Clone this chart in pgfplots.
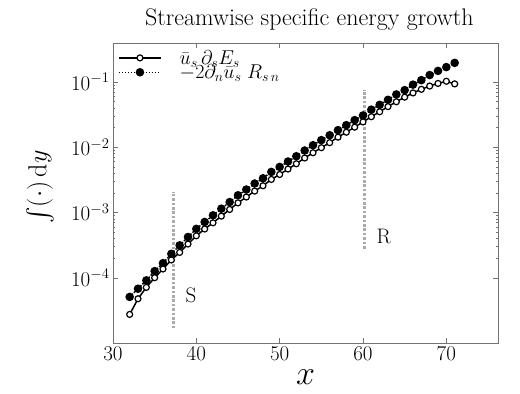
\RequirePackage{fix-cm}
\documentclass[border=0pt]{standalone}
\usepackage{amsmath}
\usepackage{pgfplots}
\pgfplotsset{compat=1.18}

% streamwise growth, filled: production term, open: advection term
\pgfplotstableread{
x  adv      prod
32 2.74e-5  5.08e-5
33 4.76e-5  6.78e-5
34 7.11e-5  9.09e-5
35 1.00e-4  1.26e-4
36 1.36e-4  1.67e-4
37 1.87e-4  2.32e-4
38 2.44e-4  3.13e-4
39 3.28e-4  4.20e-4
40 4.38e-4  5.60e-4
41 5.57e-4  7.13e-4
42 6.93e-4  9.03e-4
43 8.77e-4  1.14e-3
44 1.11e-3  1.44e-3
45 1.40e-3  1.83e-3
46 1.72e-3  2.24e-3
47 2.12e-3  2.77e-3
48 2.56e-3  3.33e-3
49 3.20e-3  4.17e-3
50 3.81e-3  4.97e-3
51 4.61e-3  6.01e-3
52 5.56e-3  7.25e-3
53 6.81e-3  8.87e-3
54 8.20e-3  1.07e-2
55 9.79e-3  1.28e-2
56 1.17e-2  1.52e-2
57 1.42e-2  1.82e-2
58 1.69e-2  2.17e-2
59 2.02e-2  2.59e-2
60 2.43e-2  3.05e-2
61 2.92e-2  3.75e-2
62 3.48e-2  4.44e-2
63 4.17e-2  5.30e-2
64 4.95e-2  6.41e-2
65 5.82e-2  7.46e-2
66 6.76e-2  9.06e-2
67 7.67e-2  0.106
68 8.61e-2  0.127
69 9.44e-2  0.147
70 0.102    0.168
71 0.093    0.195
}\growth

\begin{document}
\begin{tikzpicture}
\begin{axis}[
  scale only axis,
  width=385pt, height=300pt,
  ymode=log,
  xmin=30, xmax=76.2,
  ymin=1e-5, ymax=0.393,
  xtick={30,40,50,60,70},
  ytick={1e-4,1e-3,1e-2,1e-1},
  tick align=inside,
  axis line style={black!55},
  every tick/.style={black!55},
  major tick length=5pt, minor tick length=2.5pt,
  tick label style={font=\fontsize{21}{24}\selectfont},
  title={Streamwise specific energy growth},
  title style={font=\fontsize{24}{27}\selectfont, at={(axis description cs:0.51,1)},
    anchor=base, yshift=12pt},
  xlabel={$x$},
  xlabel style={font=\fontsize{34}{40}\selectfont, at={(axis description cs:0.5,0)},
    anchor=base, yshift=-41pt},
  ylabel={$\int(\cdot)\,\mathrm{d}y$},
  ylabel style={font=\fontsize{26}{30}\selectfont, at={(axis description cs:-0.19,0.52)},
    anchor=center},
  legend style={draw=none, fill=none, at={(axis description cs:0.013,0.99)},
    anchor=north west, font=\fontsize{20}{22}\selectfont, row sep=-5pt,
    inner xsep=0pt, /tikz/every odd column/.append style={column sep=16pt}},
  legend cell align=left,
  legend image code/.code={
    \draw[mark repeat=2, mark phase=2] plot coordinates {(0pt,0pt) (21pt,0pt) (42pt,0pt)};},
  reverse legend,
]
\addplot[black!33, line width=3pt, dash pattern=on 2.7pt off 1.7pt, forget plot]
  coordinates {(37.3,1.67e-5) (37.3,2.06e-3)};
\addplot[black!33, line width=3pt, dash pattern=on 2.7pt off 1.7pt, forget plot]
  coordinates {(60.2,2.79e-4) (60.2,7.46e-2)};
\addplot[black, line width=1.5pt, dash pattern=on 1.5pt off 1.5pt,
  mark=*, mark size=3.5pt, mark options={solid, fill=black}]
  table[x=x, y=prod] {\growth};
\addlegendentry{$-2\partial_n\bar{u}_s\;R_{s\,n}$}
\addplot[black, line width=1.5pt, mark=*, mark size=3pt,
  mark options={solid, fill=white, line width=1.2pt}]
  table[x=x, y=adv] {\growth};
\addlegendentry{$\bar{u}_s\,\partial_s E_s$}
\node[anchor=base west, font=\fontsize{21}{24}\selectfont] at (axis cs:38.3,4.2e-5) {S};
\node[anchor=base west, font=\fontsize{21}{24}\selectfont] at (axis cs:61.2,3.3e-4) {R};
\end{axis}
\pgfresetboundingbox
\path ([xshift=-113pt, yshift=-50.3pt]current axis.south west)
  rectangle ([xshift=22pt, yshift=43pt]current axis.north east);
\end{tikzpicture}
\end{document}
